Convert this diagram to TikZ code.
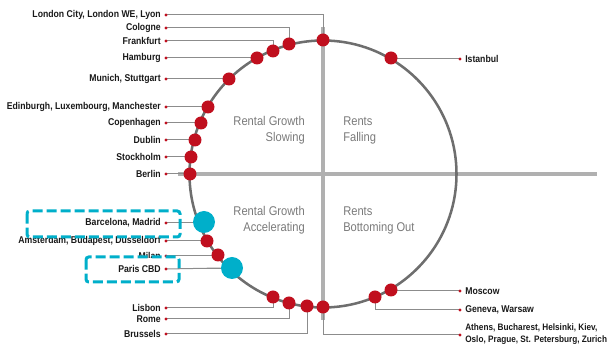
\documentclass[tikz,border=0pt]{standalone}
\usepackage{fontspec}
\setmainfont{Liberation Sans}
\newfontfamily\labfont[FakeStretch=0.88]{Liberation Sans}
\usetikzlibrary{backgrounds}
\definecolor{dotred}{HTML}{C00F1E}
\definecolor{tealc}{HTML}{00AFCA}
\definecolor{axisgray}{HTML}{B0B0B0}
\definecolor{circgray}{HTML}{6E6E6E}
\definecolor{leadgray}{HTML}{8C8C8C}
\definecolor{quadgray}{HTML}{7A7A7A}
\begin{document}
\begin{tikzpicture}[x=0.75pt,y=-0.75pt,
  rdot/.style={circle,fill=dotred,inner sep=0pt,minimum size=9.75pt},
  tdot/.style={circle,fill=tealc,inner sep=0pt,minimum size=16.5pt},
  sdot/.style={circle,fill=dotred,inner sep=0pt,minimum size=2.4pt},
  lbl/.style={font=\labfont\bfseries\fontsize{7.4}{9.6}\selectfont,text=black!90,inner sep=0pt},
  lblsmall/.style={font=\labfont\bfseries\fontsize{7.0}{9.2}\selectfont,text=black!90,inner sep=0pt},
  quadtxt/.style={font=\labfont\fontsize{9.5}{12}\selectfont,text=quadgray,inner sep=0pt},
  leader/.style={draw=leadgray,line width=0.75pt},
  axisline/.style={draw=axisgray,line width=3pt},
  ringline/.style={draw=circgray,line width=1.9pt},
  tealbox/.style={draw=tealc,line width=2.25pt,dash pattern=on 7.5pt off 3pt,rounded corners=2pt}
]
\useasboundingbox (0,0) rectangle (612,345);
\coordinate (ctr) at (323,174);
\coordinate (axL) at (178,174);
\coordinate (axR) at (597,174);
\coordinate (axT) at (323,27);
\coordinate (axB) at (323,320);

% dots on the ring
\node[rdot] (dLondon) at (323,40) {};
\node[rdot] (dCologne) at (289,44) {};
\node[rdot] (dFrankfurt) at (273,51) {};
\node[rdot] (dHamburg) at (257,58) {};
\node[rdot] (dMunich) at (229,79) {};
\node[rdot] (dEdinburgh) at (208,107) {};
\node[rdot] (dCopenhagen) at (201,123) {};
\node[rdot] (dDublin) at (195,140) {};
\node[rdot] (dStockholm) at (191,157) {};
\node[rdot] (dBerlin) at (190,174) {};
\node[tdot] (dBarcelona) at (204,222) {};
\node[rdot] (dAmsterdam) at (207,241) {};
\node[rdot] (dMilan) at (218,255) {};
\node[tdot] (dParis) at (232,268) {};
\node[rdot] (dLisbon) at (273,297) {};
\node[rdot] (dRome) at (289,303) {};
\node[rdot] (dBrussels) at (307,306) {};
\node[rdot] (dAthens) at (323,307) {};
\node[rdot] (dGeneva) at (375,297) {};
\node[rdot] (dMoscow) at (391,290) {};
\node[rdot] (dIstanbul) at (391,58) {};

% small label dots
\node[sdot] (sLondon) at (166,15) {};
\node[sdot] (sCologne) at (166,28) {};
\node[sdot] (sFrankfurt) at (166,41) {};
\node[sdot] (sHamburg) at (166,58) {};
\node[sdot] (sMunich) at (166,79) {};
\node[sdot] (sEdinburgh) at (166,107) {};
\node[sdot] (sCopenhagen) at (166,123) {};
\node[sdot] (sDublin) at (166,140) {};
\node[sdot] (sStockholm) at (166,157) {};
\node[sdot] (sBerlin) at (166,174) {};
\node[sdot] (sBarcelona) at (166,223) {};
\node[sdot] (sAmsterdam) at (166,241) {};
\node[sdot] (sMilan) at (166,256) {};
\node[sdot] (sParis) at (166,269) {};
\node[sdot] (sLisbon) at (166,308) {};
\node[sdot] (sRome) at (166,319) {};
\node[sdot] (sBrussels) at (166,334) {};
\node[sdot] (sAthens) at (460,335) {};
\node[sdot] (sGeneva) at (460,310) {};
\node[sdot] (sMoscow) at (460,291) {};
\node[sdot] (sIstanbul) at (460,59) {};

\begin{scope}[on background layer]
  \draw[axisline] (axL) -- (axR);
  \draw[axisline] (axT) -- (axB);
  \draw[ringline] (ctr) circle[radius=133.5];
  \foreach \n in {London,Cologne,Frankfurt,Hamburg,Munich,Edinburgh,Copenhagen,Dublin,Stockholm,Berlin,Barcelona,Amsterdam,Milan,Paris,Lisbon,Rome,Brussels,Athens,Geneva,Moscow,Istanbul}
    \draw[leader] (s\n.center) -| (d\n.center);
\end{scope}

% left labels
\node[lbl,anchor=east] (tLondon) at (161,15) {London City, London WE, Lyon};
\node[lbl,anchor=east] (tCologne) at (161,28) {Cologne};
\node[lbl,anchor=east] (tFrankfurt) at (161,41) {Frankfurt};
\node[lbl,anchor=east] (tHamburg) at (161,58) {Hamburg};
\node[lbl,anchor=east] (tMunich) at (161,79) {Munich, Stuttgart};
\node[lbl,anchor=east] (tEdinburgh) at (161,107) {Edinburgh, Luxembourg, Manchester};
\node[lbl,anchor=east] (tCopenhagen) at (161,123) {Copenhagen};
\node[lbl,anchor=east] (tDublin) at (161,140) {Dublin};
\node[lbl,anchor=east] (tStockholm) at (161,157) {Stockholm};
\node[lbl,anchor=east] (tBerlin) at (161,174) {Berlin};
\node[lbl,anchor=east] (tBarcelona) at (161,223) {Barcelona, Madrid};
\node[lbl,anchor=east] (tAmsterdam) at (161,241) {Amsterdam, Budapest, Dusseldorf};
\node[lbl,anchor=east] (tMilan) at (161,256) {Milan};
\node[lbl,anchor=east] (tLisbon) at (161,308) {Lisbon};
\node[lbl,anchor=east] (tRome) at (161,319) {Rome};
\node[lbl,anchor=east] (tBrussels) at (161,334) {Brussels};

% teal boxes
\draw[tealbox] (27,211) rectangle (180,237);
\fill[white] (87,258) rectangle (178,281);
\draw[tealbox] (86,257) rectangle (179,282);
\draw[leader] (sParis.center) -- (dParis.west);
\node[sdot] at (sParis) {};
\node[lbl,anchor=east] (tParis) at (161,269) {Paris CBD};

% right labels
\node[lbl,anchor=west] (tIstanbul) at (465,59) {Istanbul};
\node[lbl,anchor=west] (tMoscow) at (465,291) {Moscow};
\node[lbl,anchor=west] (tGeneva) at (465,310) {Geneva, Warsaw};
\node[lblsmall,anchor=west,align=left] (tAthens) at (465,334) {Athens, Bucharest, Helsinki, Kiev,\\Oslo, Prague, St. Petersburg, Zurich};

% quadrant texts
\node[quadtxt,anchor=east,align=right] (qTL) at (305,130) {Rental Growth\\Slowing};
\node[quadtxt,anchor=west,align=left] (qTR) at (343,130) {Rents\\Falling};
\node[quadtxt,anchor=east,align=right] (qBL) at (305,220) {Rental Growth\\Accelerating};
\node[quadtxt,anchor=west,align=left] (qBR) at (343,220) {Rents\\Bottoming Out};
\end{tikzpicture}
\end{document}
